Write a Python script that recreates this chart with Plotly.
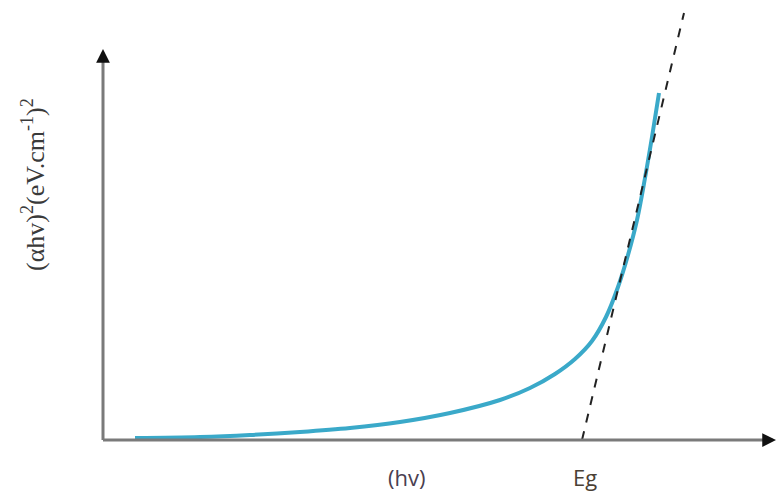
import plotly.graph_objects as go

# Schematic Tauc plot (arbitrary units; y measured upward from the figure bottom)
curve_x = [135, 200, 250, 300, 350, 400, 450, 500, 530, 555, 575, 592, 606, 618, 628, 637, 645, 652, 659]
curve_y = [54, 55, 57, 60, 64, 70, 79, 92, 104, 118, 133, 151, 175, 205, 237, 272, 314, 355, 399]
fit_x = [582, 684]
fit_y = [52, 479]
origin = (103, 52)
x_axis_end = 776
y_axis_end = 443
label_hv = "(hv)"
label_eg = "Eg"
ylabel = "(αhv)<sup>2</sup>(eV.cm<sup>-1</sup>)<sup>2</sup>"

fig = go.Figure()
fig.add_trace(go.Scatter(x=curve_x, y=curve_y, mode="lines",
                         line=dict(color="#3aa9c9", width=4, shape="spline", smoothing=1.0),
                         hoverinfo="skip"))
fig.add_trace(go.Scatter(x=fit_x, y=fit_y, mode="lines",
                         line=dict(color="#222222", width=2, dash="dash"),
                         hoverinfo="skip"))

# axes lines
fig.add_shape(type="line", x0=origin[0], y0=origin[1], x1=x_axis_end - 8, y1=origin[1],
              line=dict(color="#7a7a7a", width=3), xref="x", yref="y")
fig.add_shape(type="line", x0=origin[0], y0=origin[1], x1=origin[0], y1=y_axis_end - 8,
              line=dict(color="#7a7a7a", width=3), xref="x", yref="y")
# black arrow heads
fig.add_annotation(x=x_axis_end, y=origin[1], ax=x_axis_end - 12, ay=origin[1],
                   xref="x", yref="y", axref="x", ayref="y", text="",
                   showarrow=True, arrowhead=2, arrowsize=1.1, arrowwidth=2.5, arrowcolor="#111111")
fig.add_annotation(x=origin[0], y=y_axis_end, ax=origin[0], ay=y_axis_end - 12,
                   xref="x", yref="y", axref="x", ayref="y", text="",
                   showarrow=True, arrowhead=2, arrowsize=1.1, arrowwidth=2.5, arrowcolor="#111111")

fig.add_annotation(x=406, y=15, text=label_hv, showarrow=False, xref="x", yref="y",
                   font=dict(family="Open Sans, Arial", size=22, color="#4a4050"))
fig.add_annotation(x=585, y=15, text=label_eg, showarrow=False, xref="x", yref="y",
                   font=dict(family="Open Sans, Arial", size=22, color="#4a4035"))
fig.add_annotation(x=33, y=307, text=ylabel, showarrow=False, xref="x", yref="y",
                   textangle=-90,
                   font=dict(family="Liberation Serif, Times New Roman, serif", size=26, color="#3a3a3a"))

fig.update_xaxes(range=[0, 776], visible=False, fixedrange=True)
fig.update_yaxes(range=[0, 492], visible=False, fixedrange=True)
fig.update_layout(width=776, height=492, margin=dict(l=0, r=0, t=0, b=0),
                  plot_bgcolor="white", paper_bgcolor="white", showlegend=False)
fig.write_html("out.html")
